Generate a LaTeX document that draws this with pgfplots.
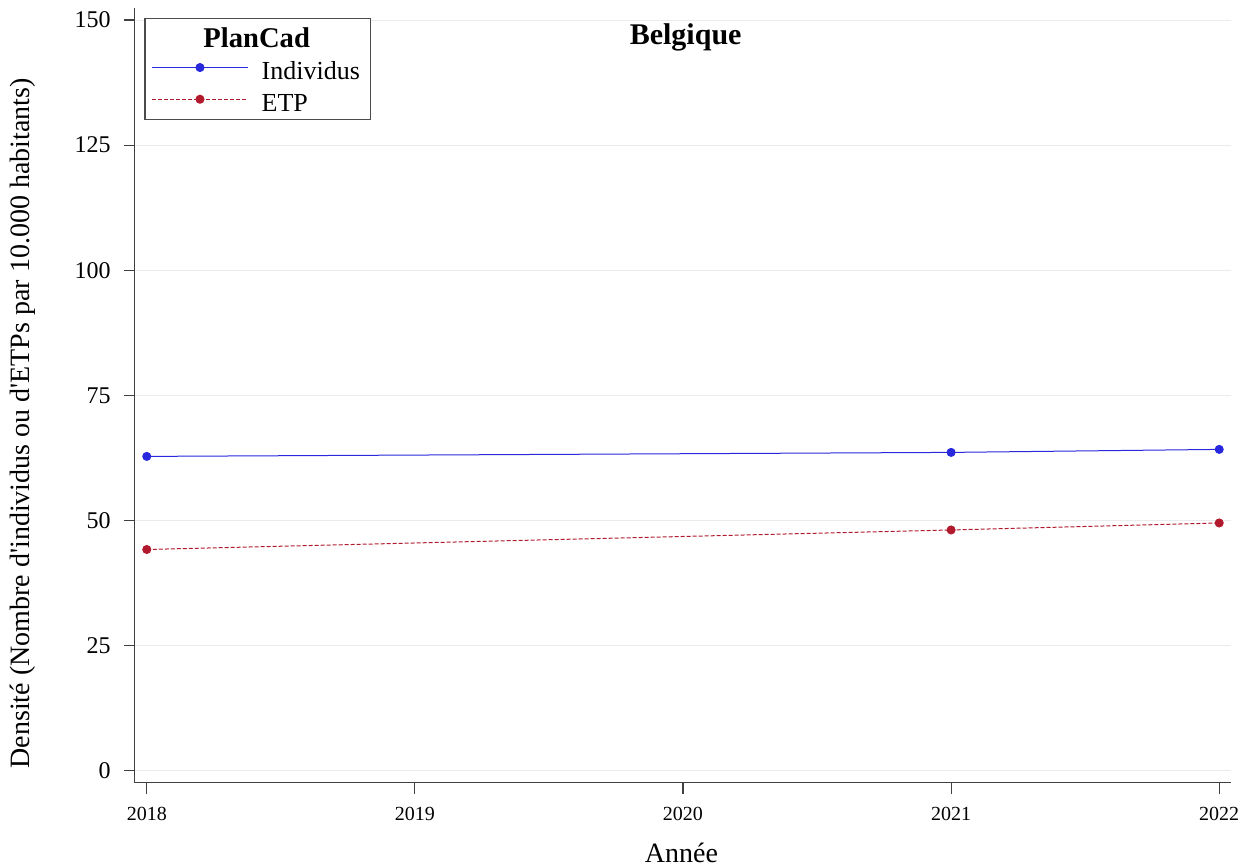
\documentclass[border=0pt]{standalone}
\usepackage{fontspec}
\setmainfont{Liberation Serif}
\usepackage{pgfplots}
\pgfplotsset{compat=1.18}
\definecolor{cInd}{RGB}{40,40,220}
\definecolor{cEtp}{RGB}{178,25,45}
\begin{document}
\begin{tikzpicture}
\path[use as bounding box] (-67.35pt,-42.15pt) rectangle (556.15pt,391.35pt);
\begin{axis}[
 at={(0pt,0pt)}, anchor=south west,
 scale only axis, width=548.15pt, height=387.35pt,
 xmin=2017.955, xmax=2022.044, ymin=-2.4, ymax=152.4,
 axis x line=bottom, axis y line=left,
 axis line style={-, line width=0.6pt, black!75},
 xtick={2018,2019,2020,2021,2022}, ytick={0,25,50,75,100,125,150},
 tick align=outside, major tick length=5.5pt,
 tick style={line width=0.6pt, black!75},
 /pgf/number format/assume math mode=true,
 /pgf/number format/1000 sep={},
 xticklabel style={font=\fontsize{10}{12}\selectfont, yshift=-3pt},
 yticklabel style={font=\fontsize{12}{14}\selectfont, xshift=-3pt},
 ymajorgrids, grid style={line width=0.5pt, black!8},
 xlabel={Année},
 ylabel={Densité (Nombre d\textquotesingle individus ou d\textquotesingle ETPs par 10.000 habitants)},
 xlabel style={at={(axis description cs:0.4988,-0.10327)}, anchor=base, font=\fontsize{14}{16}\selectfont},
 ylabel style={at={(axis description cs:-0.10189,0.4637)}, anchor=center, font=\fontsize{14}{16}\selectfont},
 legend style={draw=none, fill=none, inner sep=0pt, outer sep=0pt,
   at={(axis description cs:0.015507,0.93288)}, anchor=north west,
   row sep=0pt, column sep=6.7pt,
   nodes={inner sep=0pt, text height=10pt, text depth=5.85pt},
   font=\fontsize{13}{15}\selectfont},
 legend cell align=left,
 legend image code/.code={\draw[mark repeat=2,mark phase=2,#1] plot coordinates {(0pt,4.15pt) (23.9pt,4.15pt) (47.8pt,4.15pt)};},
]
\draw[line width=0.6pt, black!70, fill=white] (axis description cs:0.009395,0.85633) rectangle (axis description cs:0.21527,0.98670);
\node[anchor=base, font=\fontsize{14.3}{16}\selectfont\bfseries] at (axis description cs:0.11128,0.94927) {PlanCad};
\node[anchor=base, font=\fontsize{15}{17}\selectfont\bfseries] at (axis cs:2020.01,145.06) {Belgique};
\addplot[cInd, line width=0.5pt, mark=*, mark size=2pt, mark options={solid, fill=cInd}] coordinates {(2018,62.8) (2021,63.6) (2022,64.2)};
\addlegendentry{Individus}
\addplot[cEtp, line width=0.5pt, dash pattern=on 2pt off 1pt, mark=*, mark size=2pt, mark options={solid, fill=cEtp}] coordinates {(2018,44.2) (2021,48.1) (2022,49.5)};
\addlegendentry{ETP}
\end{axis}
\end{tikzpicture}
\end{document}
